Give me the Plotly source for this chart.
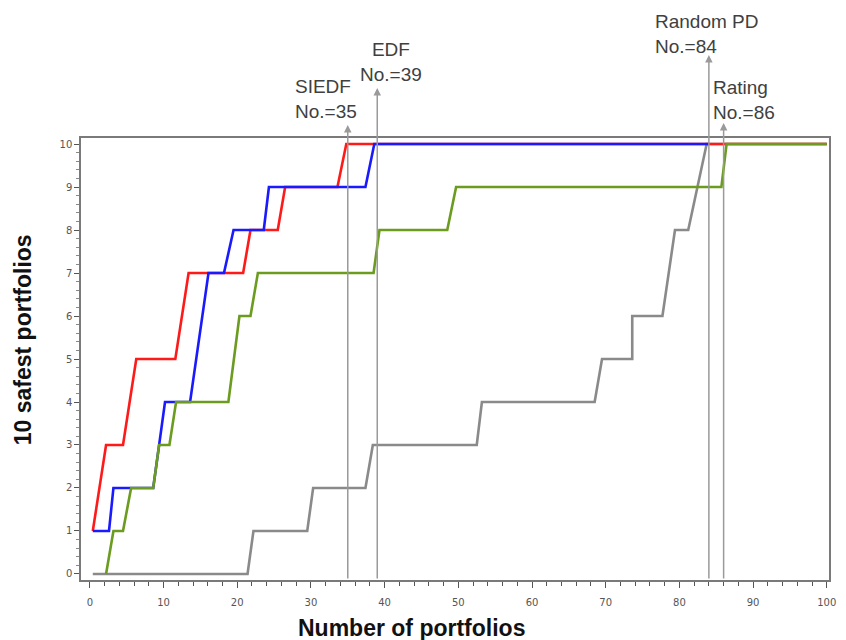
import plotly.graph_objects as go

# ---- data ----
siedf_x = [0.4, 2.2, 4.5, 6.3, 11.6, 13.4, 20.8, 21.8, 25.5, 26.5, 33.6, 34.8, 100]
siedf_y = [1, 3, 3, 5, 5, 7, 7, 8, 8, 9, 9, 10, 10]

edf_x = [0.4, 2.6, 3.2, 8.6, 10.2, 13.6, 16.1, 18.2, 19.5, 23.6, 24.3, 37.4, 38.6, 84]
edf_y = [1, 1, 2, 2, 4, 4, 7, 7, 8, 8, 9, 9, 10, 10]

rating_x = [2.2, 3.2, 4.5, 5.6, 8.6, 9.4, 10.8, 11.7, 18.8, 20.3, 21.8, 22.8, 38.5, 39.3,
            48.5, 49.7, 85.7, 86.4, 100]
rating_y = [0, 1, 1, 2, 2, 3, 3, 4, 4, 6, 6, 7, 7, 8, 8, 9, 9, 10, 10]

random_x = [0.4, 21.4, 22.2, 29.5, 30.3, 37.4, 38.4, 52.5, 53.2, 68.5, 69.5, 73.6, 73.6,
            77.7, 79.4, 81.2, 83.7, 100]
random_y = [0, 0, 1, 1, 2, 2, 3, 3, 4, 4, 5, 5, 6, 6, 8, 8, 10, 10]

marker_names = ["SIEDF", "EDF", "Random PD", "Rating"]
marker_nums = [35, 39, 84, 86]

x_ticks = list(range(0, 101, 10))
y_ticks = list(range(0, 11))

# ---- styling / placement (not data) ----
arrow_tip = [10.44, 11.30, 12.07, 10.49]
# (paper x, paper y, xanchor, align)
label_pos = [(0.2834, 1.0882, "left", "left"), (0.4146, 1.1719, "center", "center"),
             (0.7642, 1.2364, "left", "left"), (0.8424, 1.0871, "left", "left")]

fig = go.Figure()
series = [
    (random_x, random_y, "#8a8a8a", "Random PD"),
    (siedf_x, siedf_y, "#ff1a1a", "SIEDF"),
    (edf_x, edf_y, "#1a1aff", "EDF"),
    (rating_x, rating_y, "#6b9b1f", "Rating"),
]
for xs, ys, col, nm in series:
    fig.add_trace(go.Scatter(x=xs, y=ys, mode="lines", name=nm,
                             line=dict(color=col, width=2.6), showlegend=False,
                             cliponaxis=False))

annotations = []
for name, num, tip, (lx, ly, xa, al) in zip(marker_names, marker_nums, arrow_tip, label_pos):
    annotations.append(dict(x=num, y=tip, ax=num, ay=-0.14, xref="x", yref="y",
                            axref="x", ayref="y", text="", showarrow=True,
                            arrowhead=2, arrowsize=1.0, arrowwidth=1.5,
                            arrowcolor="#9a9a9a", standoff=0, startstandoff=0))
    annotations.append(dict(x=lx, y=ly, xref="paper", yref="paper", xanchor=xa,
                            yanchor="middle", align=al, showarrow=False,
                            text=f"{name}<br>No.={num}",
                            font=dict(family="Liberation Sans, Arial", size=19, color="#404040")))

annotations.append(dict(x=0.4424, y=-0.1086, xref="paper", yref="paper", showarrow=False,
                        text="<b>Number of portfolios</b>", xanchor="center", yanchor="middle",
                        font=dict(family="Liberation Sans, Arial", size=23, color="#111111")))
annotations.append(dict(x=-0.0772, y=0.543, xref="paper", yref="paper", showarrow=False,
                        text="<b>10 safest portfolios</b>", textangle=-90,
                        xanchor="center", yanchor="middle",
                        font=dict(family="Liberation Sans, Arial", size=23, color="#111111")))

fig.update_layout(
    width=846, height=640,
    margin=dict(l=81, r=10, t=138, b=60, pad=0),
    paper_bgcolor="white", plot_bgcolor="white",
    annotations=annotations,
    xaxis=dict(range=[-1.2, 100.3], tickvals=x_ticks, ticktext=[str(v) for v in x_ticks],
               showgrid=False, zeroline=False, showline=True, linecolor="#7a7a7a",
               linewidth=1.5, mirror=True, ticks="outside", ticklen=6, tickwidth=1.2,
               tickcolor="#555", ticklabelstandoff=6,
               tickfont=dict(family="DejaVu Sans", size=10, color="#555"),
               minor=dict(dtick=2, ticks="outside", ticklen=4, tickcolor="#555", tickwidth=1)),
    yaxis=dict(range=[-0.14, 10.14], tickvals=y_ticks, ticktext=[str(v) for v in y_ticks],
               showgrid=False, zeroline=False, showline=True, linecolor="#7a7a7a",
               linewidth=1.5, mirror=True, ticks="outside", ticklen=5, tickwidth=1.2,
               tickcolor="#555",
               tickfont=dict(family="DejaVu Sans", size=10, color="#555"),
               minor=dict(dtick=0.2, ticks="outside", ticklen=3, tickcolor="#888", tickwidth=1)),
)

fig.write_html("out.html")
